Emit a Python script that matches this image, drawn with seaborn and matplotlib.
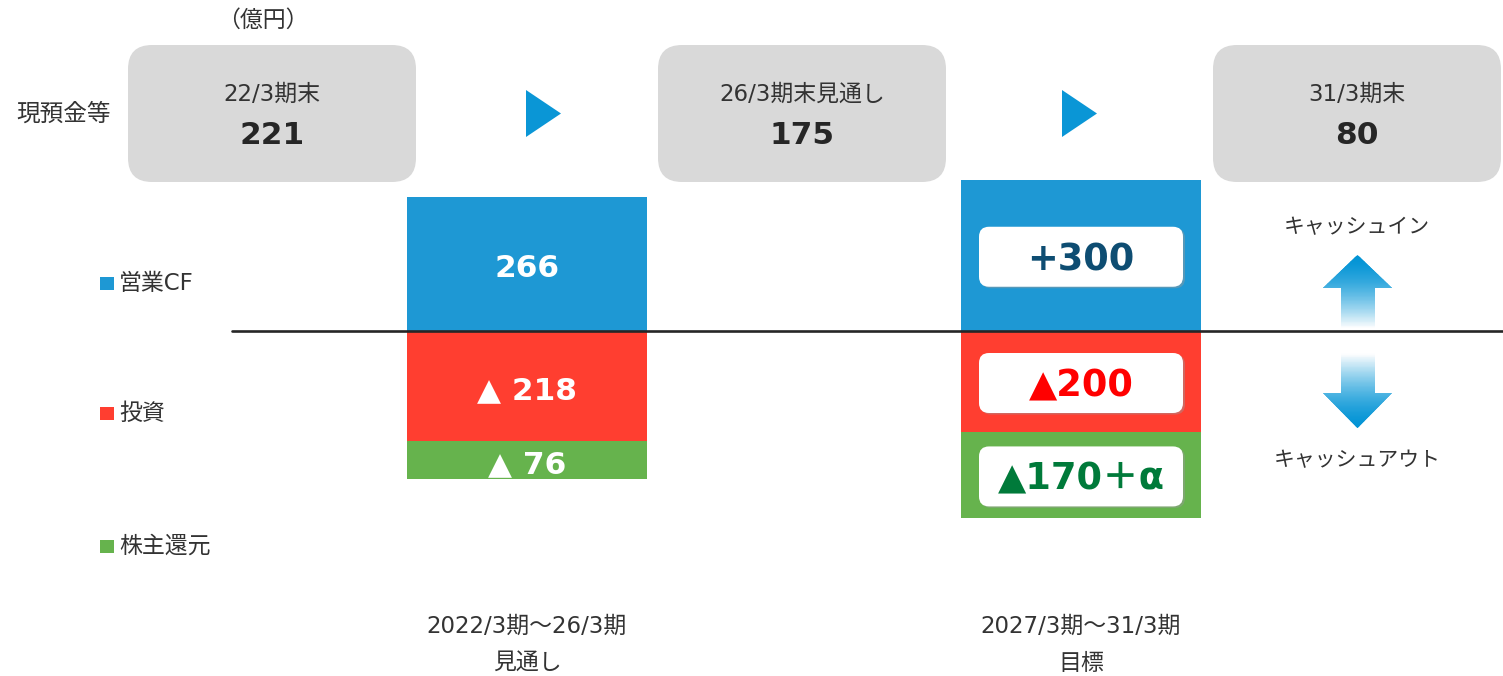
import matplotlib
matplotlib.use("Agg")
import matplotlib.pyplot as plt
import matplotlib.transforms as mtransforms
from matplotlib.colors import to_rgb
from matplotlib.patches import FancyBboxPatch, Polygon, Rectangle
import numpy as np
import pandas as pd
import seaborn as sns

# ---------------- data ----------------
periods = ["2022/3期〜26/3期", "2027/3期〜31/3期"]
period_notes = ["見通し", "目標"]
operating_cf = [266, 300]
investment = [218, 200]
shareholder_return = [76, 170]
series_names = ["営業CF", "投資", "株主還元"]
cash_labels = ["22/3期末", "26/3期末見通し", "31/3期末"]
cash_values = [221, 175, 80]
unit_label = "（億円）"
cash_title = "現預金等"
flow_in_label = "キャッシュイン"
flow_out_label = "キャッシュアウト"
plus_alpha = "＋α"

# ---------------- style ----------------
W, H = 1503, 676
sns.set_theme(style="white")
plt.rcParams["font.family"] = ["DejaVu Sans", "Noto Sans CJK JP"]
BLUE, RED, GREEN = "#1e98d4", "#ff3e30", "#66b34d"
TXT = "#333333"
ARROW_BLUE = "#0a96d6"

fig = plt.figure(figsize=(W / 100, H / 100), dpi=100)
fig.patch.set_facecolor("white")
ax = fig.add_axes([0, 0, 1, 1])
ax.set_facecolor("none")

df = pd.DataFrame({
    "period": periods,
    "cf": operating_cf,
    "inv": [-v for v in investment],
    "out": [-(a + b) for a, b in zip(investment, shareholder_return)],
})

bw = 240 / 554
common = dict(x="period", order=periods, width=bw, errorbar=None,
              saturation=1, linewidth=0, ax=ax)
sns.barplot(data=df, y="out", color=GREEN, **common)
sns.barplot(data=df, y="inv", color=RED, **common)
sns.barplot(data=df, y="cf", color=BLUE, **common)

scale = 0.505  # px per unit
base_px = 331
ax.set_ylim(-(H - base_px) / scale, base_px / scale)
ax.set_xlim(-527 / 554, (W - 527) / 554)
ax.axis("off")

# zero line
ax.axhline(0, xmin=232 / W, xmax=1, color="#262626", lw=1.9, zorder=5)

# pixel transform (origin top-left)
P = mtransforms.Affine2D().scale(1, -1).translate(0, H)
XP = mtransforms.blended_transform_factory(ax.transData, P)
# data transform nudged a few pixels down for optically centred labels
TD = mtransforms.offset_copy(ax.transData, fig=fig, x=0, y=-4.5, units="dots")

# ---------------- top cash boxes ----------------
ax.text(263, 20, unit_label, transform=P, ha="center", va="center",
        fontsize=16.5, color=TXT)
ax.text(64, 114, cash_title, transform=P, ha="center", va="center",
        fontsize=17, color=TXT)
box_centers = [272, 802, 1357]
for cx, lab, val in zip(box_centers, cash_labels, cash_values):
    ax.add_patch(FancyBboxPatch((cx - 144, 45), 288, 137,
                                boxstyle="round,pad=0,rounding_size=24",
                                fc="#d9d9d9", ec="none", transform=P,
                                zorder=2, clip_on=False))
    ax.text(cx, 94, lab, transform=P, ha="center", va="center",
            fontsize=16.5, color=TXT, zorder=3)
    ax.text(cx, 135, f"{val}", transform=P, ha="center", va="center",
            fontsize=22.5, fontweight="bold", color="#262626", zorder=3)
for x0 in [526, 1062]:
    ax.add_patch(Polygon([(x0, 90), (x0 + 35, 113.5), (x0, 137)],
                         closed=True, transform=P, fc=ARROW_BLUE, ec="none",
                         zorder=3))

# ---------------- legend labels ----------------
for name, col, yc in zip(series_names, [BLUE, RED, GREEN], [283, 413, 546]):
    ax.add_patch(Rectangle((100, yc - 6.5), 13.5, 13.5, transform=P, fc=col,
                           ec="none", zorder=3))
    ax.text(119, yc, name, transform=P, ha="left", va="center",
            fontsize=16.5, color=TXT)

# ---------------- bar labels ----------------
# period 1 : plain white labels
i = 0
cf, inv, ret = operating_cf[i], investment[i], shareholder_return[i]
for y, lab in [(cf / 2, f"{cf}"), (-inv / 2, f"▲ {inv}"),
               (-inv - ret / 2, f"▲ {ret}")]:
    ax.text(i, y, lab, transform=TD, ha="center", va="center", fontsize=22.5,
            fontweight="bold", color="white", zorder=7)

# period 2 : white rounded boxes
i = 1
cf, inv, ret = operating_cf[i], investment[i], shareholder_return[i]
for y, lab, col in [(cf / 2, f"+{cf}", "#0e4d72"),
                    (-inv / 2, f"▲{inv}", "#ff0000"),
                    (-inv - ret / 2, f"▲{ret}{plus_alpha}", "#007a3a")]:
    T = mtransforms.Affine2D() + mtransforms.ScaledTranslation(i, y, ax.transData)
    ax.add_patch(FancyBboxPatch((-100, -33), 204, 60,
                                boxstyle="round,pad=0,rounding_size=10",
                                fc="#9a9a9a", ec="none", alpha=0.45,
                                transform=T, zorder=6))
    ax.add_patch(FancyBboxPatch((-102, -31.5), 204, 60,
                                boxstyle="round,pad=0,rounding_size=10",
                                fc="white", ec="none", transform=T, zorder=6.5))
    ax.text(i, y, lab, transform=TD, ha="center", va="center", fontsize=26.5,
            fontweight="bold", color=col, zorder=7)

# ---------------- period labels ----------------
for i, (p, note) in enumerate(zip(periods, period_notes)):
    ax.text(i, 626, p, transform=XP, ha="center", va="center",
            fontsize=16.5, color=TXT)
    ax.text(i, 663, note, transform=XP, ha="center", va="center",
            fontsize=16.5, color=TXT)

# ---------------- cash in / out arrows ----------------
ax.text(1357, 227, flow_in_label, transform=P, ha="center", va="center",
        fontsize=15, color=TXT)
ax.text(1357, 460, flow_out_label, transform=P, ha="center", va="center",
        fontsize=15, color=TXT)


def grad_arrow(points, y_tip, y_end, n=90):
    poly = Polygon(points, closed=True, transform=P, fc="none", ec="none")
    ax.add_patch(poly)
    ys = np.linspace(y_tip, y_end, n + 1)
    blue = np.array(to_rgb("#0093d5"))
    for k in range(n):
        t = ((k + 0.5) / n) ** 1.6
        c = blue * (1 - t) + np.ones(3) * t
        r = Rectangle((1300, ys[k]), 120, ys[k + 1] - ys[k], transform=P,
                      fc=c, ec=c, lw=0.6, zorder=3)
        ax.add_patch(r)
        r.set_clip_path(poly)


grad_arrow([(1357.5, 255), (1392, 288), (1375, 288), (1375, 328),
            (1341, 328), (1341, 288), (1323, 288)], 255, 328)
grad_arrow([(1357.5, 428), (1392, 393), (1375, 393), (1375, 353),
            (1341, 353), (1341, 393), (1323, 393)], 428, 353)

fig.savefig("out.png", dpi=100)
